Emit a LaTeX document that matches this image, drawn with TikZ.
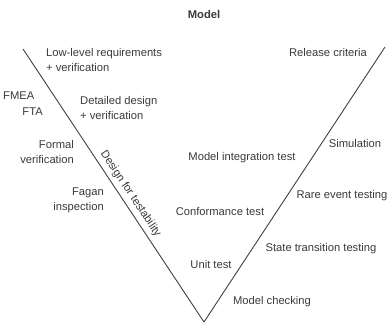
\documentclass[tikz,border=0pt]{standalone}
\usepackage{fontspec}
\setmainfont{Liberation Sans}
\usetikzlibrary{positioning}
\definecolor{Ink}{HTML}{3A3A3A}
\definecolor{Rule}{HTML}{404040}

\begin{document}
\begin{tikzpicture}[x=1pt,y=-1pt,
  every node/.style={font=\fontsize{11.2}{15}\selectfont,text=Ink,inner sep=0pt},
  title/.style={font=\fontsize{11.2}{15}\selectfont\bfseries},
  leftnote/.style={anchor=east,align=right},
  rightnote/.style={anchor=west,align=left},
  vline/.style={draw=Rule,line width=0.9pt}]
  \useasboundingbox (0,0) rectangle (390,324);
  \node[title] (model) at (204,14) {Model};
  % the two arms of the V
  \coordinate (ltop) at (23,49);
  \coordinate (vbot) at (204,322);
  \coordinate (rtop) at (385,47);
  \draw[vline] (ltop) -- (vbot)
    node[pos=0.55,sloped,above=4pt] (dft) {Design for testability};
  \draw[vline] (vbot) -- (rtop);
  % left side, design
  \node[rightnote] (lowreq) at (46,59.5) {Low-level requirements\\+ verification};
  \node[leftnote] (fmea) at (34.5,96) {FMEA};
  \node[leftnote] (fta) at (43,112) {FTA};
  \node[rightnote] (detdes) at (80,108) {Detailed design\\+ verification};
  \node[leftnote] (formal) at (74,152) {Formal\\verification};
  \node[leftnote] (fagan) at (104,200.5) {Fagan\\inspection};
  % right side, testing
  \node (release) at (328,52) {Release criteria};
  \node (modint) at (242,158) {Model integration test};
  \node (simul) at (355,143) {Simulation};
  \node (rare) at (342,196) {Rare event testing};
  \node (conform) at (220,211) {Conformance test};
  \node (state) at (321,249) {State transition testing};
  \node (unit) at (211,264) {Unit test};
  \node (mcheck) at (272,302) {Model checking};
\end{tikzpicture}
\end{document}
